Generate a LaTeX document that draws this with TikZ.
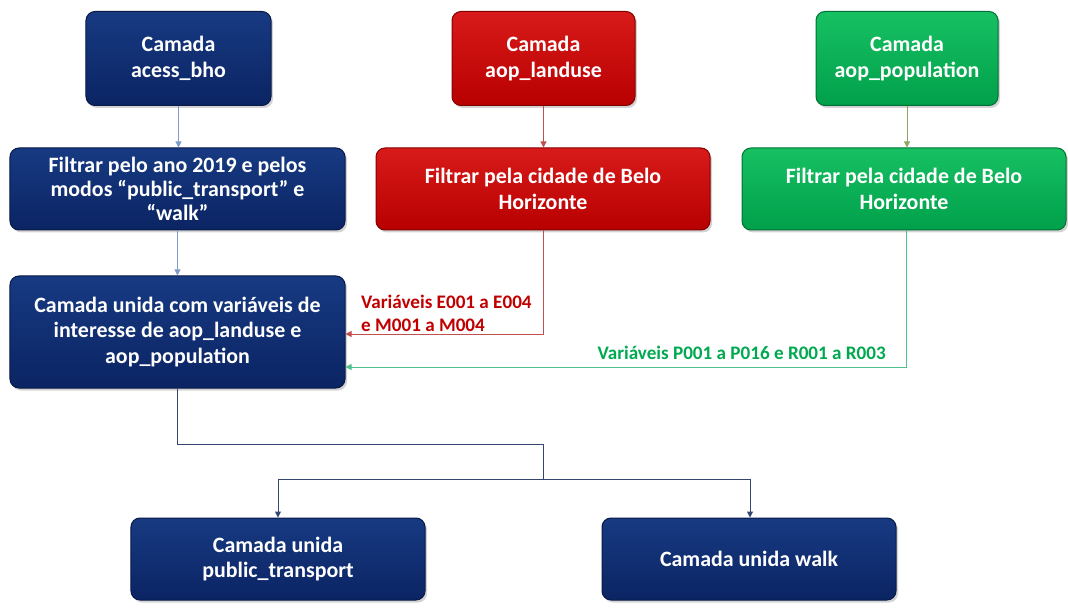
\documentclass[tikz,border=0pt]{standalone}
\usepackage{fontspec}
\setmainfont{Carlito}
\usetikzlibrary{arrows.meta,shadows}
\definecolor{navyT}{HTML}{173A82}
\definecolor{navyB}{HTML}{0B2463}
\definecolor{redT}{HTML}{D81A1A}
\definecolor{redB}{HTML}{B80000}
\definecolor{grnT}{HTML}{17C063}
\definecolor{grnB}{HTML}{00A04A}
\definecolor{lineBlue}{HTML}{7F9BC8}
\definecolor{lineRed}{HTML}{C0504D}
\definecolor{lineGrnA}{HTML}{8AA864}
\definecolor{lineGrn}{HTML}{50C08A}
\definecolor{lineDark}{HTML}{34456E}
\definecolor{lblRed}{HTML}{C00000}
\definecolor{lblGrn}{HTML}{00A850}
\begin{document}
\begin{tikzpicture}[x=1bp,y=-1bp,
  box/.style={rounded corners=9bp, line width=1bp, align=center, inner sep=0pt,
    font=\bfseries\fontsize{22}{26}\selectfont, text=white,
    drop shadow={shadow xshift=2bp, shadow yshift=-2.5bp, opacity=0.35}},
  navybox/.style={box, draw=navyB!70!black, top color=navyT, bottom color=navyB},
  redbox/.style={box, draw=redB!70!black, top color=redT, bottom color=redB},
  grnbox/.style={box, draw=grnB!70!black, top color=grnT, bottom color=grnB},
  conn/.style={line width=1bp, -{Triangle[length=6bp,width=6bp]}},
  lbl/.style={font=\bfseries\fontsize{19.2}{23}\selectfont, align=left, inner sep=0pt}
]
\useasboundingbox (0,0) rectangle (1068,609);

\node[navybox, minimum width=185bp, minimum height=94bp] (a1) at (178.5,58.5) {Camada\\acess\_bho};
\node[navybox, minimum width=335bp, minimum height=82bp, font=\bfseries\fontsize{22}{24}\selectfont] (a2) at (177.5,189) {Filtrar pelo ano 2019 e pelos\\modos “public\_transport” e\\“walk”};
\node[navybox, minimum width=335bp, minimum height=112bp] (a3) at (177.5,332) {Camada unida com variáveis de\\interesse de aop\_landuse e\\aop\_population};

\node[redbox, minimum width=183bp, minimum height=94bp] (r1) at (543.5,58.5) {Camada\\aop\_landuse};
\node[redbox, minimum width=334bp, minimum height=82bp] (r2) at (543,189) {Filtrar pela cidade de Belo\\Horizonte};

\node[grnbox, minimum width=182bp, minimum height=94bp] (g1) at (907,58.5) {Camada\\aop\_population};
\node[grnbox, minimum width=324bp, minimum height=82bp] (g2) at (904,189) {Filtrar pela cidade de Belo\\Horizonte};

\node[navybox, minimum width=294bp, minimum height=82bp] (b1) at (278,559) {Camada unida\\public\_transport};
\node[navybox, minimum width=294bp, minimum height=82bp] (b2) at (749,559) {Camada unida walk};

% connectors
\draw[conn, lineBlue] (a1.south) -- (a1.south |- a2.north);
\draw[conn, lineBlue] (a2.south) -- (a2.south |- a3.north);
\draw[conn, lineRed] (r1.south) -- (r1.south |- r2.north);
\draw[conn, lineGrnA] (g1.south) -- (g1.south |- g2.north);

\draw[conn, lineRed] (r2.south) |- ([yshift=-2bp]a3.east);
\coordinate (gdrop) at (906,230);
\draw[conn, lineGrn] (gdrop) |- ([yshift=-35bp]a3.east);

\node[lbl, text=lblRed, anchor=west] (lr) at (361,313.5) {Variáveis E001 a E004\\e M001 a M004};
\node[lbl, text=lblGrn, anchor=east] (lg) at (886,353) {Variáveis P001 a P016 e R001 a R003};

\coordinate (j1) at (543,444);
\coordinate (j2) at (543,479);
\draw[line width=1bp, lineDark] (a3.south) |- (j1) -- (j2);
\draw[conn, lineDark] (j2) -| (b1.north);
\draw[conn, lineDark] (j2) -| ([xshift=1bp]b2.north);
\end{tikzpicture}
\end{document}
